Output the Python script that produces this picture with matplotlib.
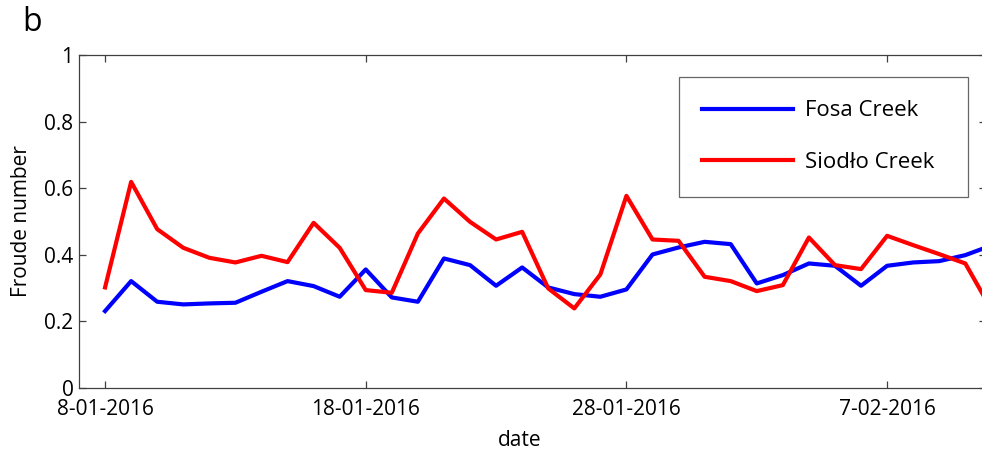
import matplotlib.pyplot as plt
import matplotlib.dates as mdates
import numpy as np
import datetime as dt

plt.rcParams['font.family'] = ['Open Sans', 'DejaVu Sans']

start = dt.date(2016, 1, 8)
dates = [start + dt.timedelta(days=i) for i in range(35)]

fosa = [0.231, 0.321, 0.259, 0.251, 0.254, 0.256, 0.289, 0.321, 0.306, 0.274,
        0.356, 0.272, 0.259, 0.389, 0.369, 0.307, 0.362, 0.302, 0.282, 0.274,
        0.296, 0.401, 0.422, 0.439, 0.432, 0.314, 0.339, 0.374, 0.367, 0.307,
        0.367, 0.377, 0.381, 0.399, 0.428]
siodlo = [0.302, 0.619, 0.477, 0.421, 0.391, 0.377, 0.397, 0.378, 0.496, 0.421,
          0.294, 0.286, 0.464, 0.569, 0.499, 0.446, 0.469, 0.299, 0.239, 0.341,
          0.577, 0.446, 0.442, 0.334, 0.321, 0.291, 0.309, 0.452, 0.369, 0.357,
          0.457, 0.429, 0.402, 0.374, 0.236]

tick_dates = [dt.date(2016, 1, 8), dt.date(2016, 1, 18), dt.date(2016, 1, 28), dt.date(2016, 2, 7)]
tick_labels = ["8-01-2016", "18-01-2016", "28-01-2016", "7-02-2016"]
y_ticks = [0, 0.2, 0.4, 0.6, 0.8, 1]
y_labels = ["0", "0.2", "0.4", "0.6", "0.8", "1"]

W, H = 982, 450
fig = plt.figure(figsize=(W / 100, H / 100), dpi=100)
# axes runs slightly past the right edge of the figure (cropped panel)
l, r, t, b = 79, 986, 55, 388
ax = fig.add_axes([l / W, 1 - b / H, (r - l) / W, (b - t) / H])

ax.plot(dates, fosa, color="#0000ff", lw=3, label="Fosa Creek")
ax.plot(dates, siodlo, color="#ff0000", lw=3, label="Siodło Creek")

x0 = mdates.date2num(dt.date(2016, 1, 7))
ax.set_xlim(x0, x0 + 1 + (r - 105) / 26.07)
ax.set_ylim(0, 1)
ax.set_xticks(tick_dates)
ax.set_xticklabels(tick_labels)
ax.set_yticks(y_ticks)
ax.set_yticklabels(y_labels)

for s in ax.spines.values():
    s.set_color("#404040")
    s.set_linewidth(0.9)
ax.tick_params(direction="in", length=5, width=0.9, color="#404040",
               top=True, right=True, labelsize=15, pad=4)
ax.tick_params(axis="x", pad=8)

ax.set_xlabel("date", fontsize=15)
ax.xaxis.set_label_coords((520 - l) / (r - l), -0.125)
ax.set_ylabel("Froude number", fontsize=15, labelpad=9)

lx, ly, lw_, lh = 679, 77, 289, 119
leg = ax.legend(loc="upper left",
                bbox_to_anchor=(lx / W, 1 - (ly + lh) / H, lw_ / W, lh / H),
                bbox_transform=fig.transFigure, borderaxespad=0, mode="expand",
                fontsize=16, handlelength=4.1, handletextpad=0.5,
                labelspacing=1.39, borderpad=1.05, fancybox=False, frameon=True)
leg.get_frame().set_edgecolor("#404040")
leg.get_frame().set_linewidth(0.9)

fig.text(22 / W, 1 - 6 / H, "b", fontsize=23, va="top", ha="left")

fig.savefig("out.png", dpi=100)
